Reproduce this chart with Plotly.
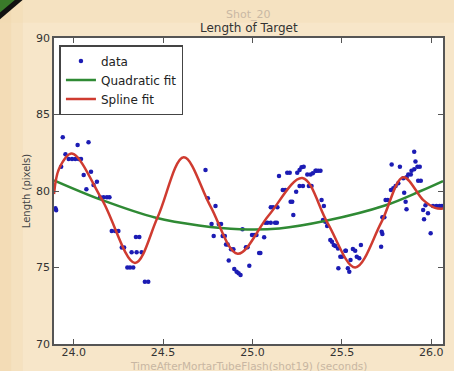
import plotly.graph_objects as go

# ---- data ----
data_t = [23.939, 23.898, 23.902, 23.930, 23.954, 23.972, 23.991, 24.009, 24.028, 24.041,
          24.022, 24.083, 24.056, 24.097, 24.071, 24.111, 24.130, 24.148, 24.167, 24.186, 24.200,
          24.213, 24.232, 24.250, 24.269, 24.282, 24.324, 24.352, 24.380, 24.348, 24.367,
          24.300, 24.315, 24.333, 24.398, 24.417,
          24.737, 24.750, 24.793, 24.771, 24.811, 24.824, 24.783, 24.833, 24.845, 24.852, 24.861,
          24.880, 24.893, 24.867, 24.898, 24.911, 24.922, 24.933, 24.944, 24.963, 24.972, 24.982,
          24.997, 25.009, 25.022, 25.037, 25.044, 25.065, 25.071, 25.083, 25.102, 25.126, 25.136,
          25.102, 25.115, 25.139, 25.169, 25.183, 25.148, 25.194, 25.208, 25.213, 25.222, 25.228,
          25.244, 25.250, 25.263, 25.274, 25.286, 25.263, 25.282, 25.306, 25.324, 25.356,
          25.337, 25.352, 25.367, 25.380, 25.315, 25.330, 25.386, 25.399, 25.394, 25.407, 25.417,
          25.435, 25.444, 25.454, 25.463, 25.478, 25.491, 25.500, 25.480, 25.519, 25.522,
          25.533, 25.541, 25.548, 25.561, 25.574, 25.583, 25.597, 25.606,
          25.722, 25.726, 25.719, 25.726, 25.737, 25.744, 25.756, 25.774, 25.787, 25.800, 25.815,
          25.778, 25.824, 25.843, 25.861, 25.848, 25.856, 25.861, 25.871, 25.885, 25.889, 25.904,
          25.904, 25.911, 25.922, 25.935, 25.926, 25.941, 25.954, 25.967, 25.959, 25.981, 25.996,
          26.009, 26.028, 26.046, 26.059]
data_v = [83.51, 78.87, 78.75, 81.59, 82.40, 82.09, 82.09, 82.09, 82.09, 82.09,
          83.00, 83.18, 81.05, 81.26, 80.11, 80.39, 80.61, 79.59, 79.59, 79.59, 79.59,
          77.39, 77.39, 77.39, 76.30, 76.30, 76.00, 76.00, 76.00, 76.99, 76.99,
          75.00, 75.00, 75.00, 74.07, 74.07,
          81.37, 79.52, 79.02, 77.84, 77.84, 77.84, 77.06, 77.06, 77.06, 76.50, 76.50,
          76.19, 76.19, 75.45, 74.90, 74.73, 74.62, 74.51, 77.50, 76.32, 76.32, 75.12,
          77.12, 77.12, 77.12, 75.95, 75.95, 76.97, 77.93, 77.93, 77.93, 77.93, 77.93,
          78.93, 78.93, 78.93, 80.07, 80.07, 80.98, 81.20, 81.20, 79.30, 79.30, 78.43,
          79.95, 81.20, 81.37, 81.55, 81.59, 80.33, 80.33, 81.08, 81.08, 81.33,
          81.16, 81.33, 81.33, 81.33, 80.33, 80.33, 79.41, 79.02, 78.10, 77.99, 77.71,
          76.80, 76.69, 76.47, 76.41, 76.25, 75.71, 75.71, 74.95, 76.10, 76.10,
          74.95, 74.73, 75.49, 76.21, 76.10, 75.71, 75.60, 76.47,
          77.34, 77.19, 76.36, 78.28, 78.28, 79.41, 79.41, 80.07, 80.18, 80.33, 80.50,
          81.74, 81.59, 80.83, 80.90, 79.89, 79.30, 78.80, 81.08, 81.08, 81.33, 81.42,
          82.57, 81.92, 81.59, 81.59, 80.67, 80.67, 78.76, 79.07, 78.15, 78.54, 77.24,
          79.02, 79.02, 79.02, 79.02]

quad_t = [23.89, 24.16, 24.46, 24.70, 24.93, 25.15, 25.41, 25.74, 25.94, 26.065]
quad_v = [80.70, 79.40, 78.25, 77.75, 77.50, 77.55, 78.05, 79.05, 80.00, 80.65]

spline_t = [23.89, 23.92, 23.99, 24.16, 24.343, 24.47, 24.615, 24.765, 24.917, 25.09,
            25.278, 25.42, 25.574, 25.72, 25.843, 25.955, 26.02, 26.065]
spline_v = [79.80, 81.50, 82.45, 79.40, 75.30, 78.30, 82.20, 79.00, 75.90, 78.40,
            80.85, 77.90, 75.00, 77.95, 80.90, 79.40, 78.90, 78.85]

x_ticks = [24.0, 24.5, 25.0, 25.5, 26.0]
y_ticks = [70, 75, 80, 85, 90]

FONT = "DejaVu Sans"

fig = go.Figure()
fig.add_trace(go.Scatter(x=data_t, y=data_v, mode="markers", name="data",
                         marker=dict(color="#1c1cb4", size=4.5)))
fig.add_trace(go.Scatter(x=quad_t, y=quad_v, mode="lines", name="Quadratic fit",
                         line=dict(color="#2f8a34", width=2.5, shape="spline", smoothing=1.0)))
fig.add_trace(go.Scatter(x=spline_t, y=spline_v, mode="lines", name="Spline fit",
                         line=dict(color="#cf3b30", width=2.5, shape="spline", smoothing=1.0)))

axis_common = dict(showgrid=False, zeroline=False, showline=True, linecolor="#555555",
                   linewidth=1.5, mirror="ticks", ticks="inside", ticklen=5,
                   tickcolor="#555555", tickfont=dict(family=FONT, size=11, color="#333333"))

fig.update_xaxes(range=[23.89, 26.065], tickvals=x_ticks,
                 ticktext=[f"{v:.1f}" for v in x_ticks], ticklabelstandoff=-3,
                 **axis_common)
fig.update_yaxes(range=[70, 90], tickvals=y_ticks,
                 ticktext=[str(v) for v in y_ticks],
                 title=dict(text="Length (pixels)", font=dict(family=FONT, size=10, color="#444444"),
                            standoff=4),
                 **axis_common)

fig.update_layout(
    width=454, height=371, autosize=False,
    margin=dict(l=54, r=9, t=38, b=27),
    paper_bgcolor="#f7e6c9", plot_bgcolor="#ffffff",
    showlegend=True,
    legend=dict(x=0.014, y=0.977, xanchor="left", yanchor="top",
                bgcolor="#ffffff", bordercolor="#444444", borderwidth=1.5,
                font=dict(family=FONT, size=12, color="#222222"),
                tracegroupgap=0, itemwidth=30),
    annotations=[
        dict(text="Shot_20", x=0.5, y=1, xref="paper", yref="paper", yanchor="bottom",
             yshift=15, showarrow=False, font=dict(family=FONT, size=11, color="#c9b8a4")),
        dict(text="Length of Target", x=0.5, y=1, xref="paper", yref="paper",
             yanchor="bottom", yshift=1, showarrow=False,
             font=dict(family=FONT, size=12, color="#333333")),
        dict(text="TimeAfterMortarTubeFlash(shot19) (seconds)", x=0.5, y=0, xref="paper",
             yref="paper", yanchor="top", yshift=-14, showarrow=False,
             font=dict(family=FONT, size=10.5, color="#c8b6a2")),
    ],
    shapes=[
        # warmer tint along the left edge of the background
        dict(type="rect", xref="paper", yref="paper", layer="below",
             x0=-0.14, x1=-0.11, y0=-0.1, y1=1.13,
             fillcolor="#eed2a2", opacity=0.35, line=dict(width=0)),
        dict(type="rect", xref="paper", yref="paper", layer="below",
             x0=-0.14, x1=-0.08, y0=-0.1, y1=1.13,
             fillcolor="#eed2a2", opacity=0.25, line=dict(width=0)),
        dict(type="rect", xref="paper", yref="paper", layer="below",
             x0=-0.14, x1=1.03, y0=1.05, y1=1.13,
             fillcolor="#f2d9b0", opacity=0.3, line=dict(width=0)),
        # corner stripe
        dict(type="path", xref="paper", yref="paper", layer="above",
             path="M -0.14 1.125 L -0.08 1.125 L -0.14 1.06 Z",
             fillcolor="#111111", line=dict(width=0)),
        dict(type="path", xref="paper", yref="paper", layer="above",
             path="M -0.14 1.125 L -0.1 1.125 L -0.14 1.082 Z",
             fillcolor="#3a7a2a", line=dict(width=0)),
    ],
)

fig.write_html("out.html", config={"displayModeBar": False},
               post_script="document.body.style.margin='0px';")
